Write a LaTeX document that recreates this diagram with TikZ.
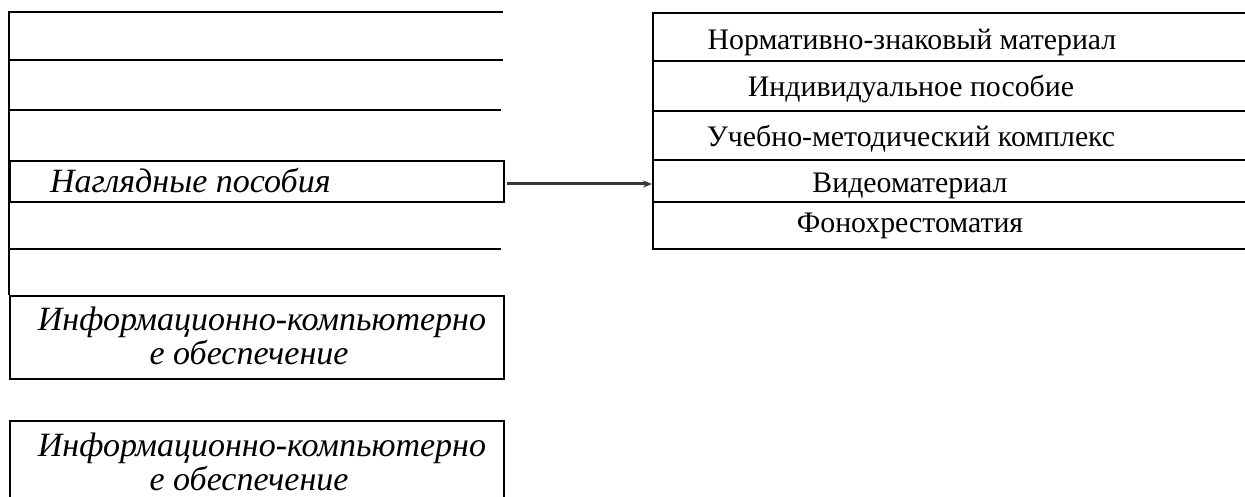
\documentclass[tikz,border=0pt]{standalone}
\usepackage{fontspec}
\setmainfont{Liberation Serif}[ItalicFont={Liberation Serif Italic}]
\usetikzlibrary{arrows.meta}
\begin{document}
\begin{tikzpicture}[x=1pt,y=-1pt,
  frame/.style={line width=2.2pt, draw=black},
  lbox/.style={frame, rectangle, anchor=north west, inner sep=0pt, minimum width=494pt},
  rbox/.style={frame, rectangle, anchor=north west, inner sep=0pt, minimum width=700pt},
  ltext/.style={inner sep=0pt, font=\fontsize{34}{34}\selectfont\itshape},
  rtext/.style={inner sep=0pt, anchor=base, font=\fontsize{29.8}{30}\selectfont},
  link/.style={line width=3pt, draw={rgb,255:red,55;green,55;blue,55}, -{Stealth[length=9pt,width=7pt]}}
]
\useasboundingbox (0,0) rectangle (1245,497);
\clip (0,0) rectangle (1245,497);

% left column lines
\draw[frame] (503,12) -- (9,12) -- (9,295);
\draw[frame] (9,60) -- (503,60);
\draw[frame] (9,110) -- (501,110);
\draw[frame] (9,249) -- (501,249);

% left boxes
\node[lbox, minimum height=41pt] (nag) at (9,160) {};
\node[ltext, anchor=base west] (nagt) at (50,193) {Наглядные пособия};

\node[lbox, minimum height=83pt] (info1) at (9,295) {};
\node[ltext, anchor=base] (info1a) at (262,330) {Информационно-компьютерно};
\node[ltext, anchor=base] (info1b) at (249,364) {е обеспечение};

\node[lbox, minimum height=100pt] (info2) at (9,420) {};
\node[ltext, anchor=base] (info2a) at (262,456) {Информационно-компьютерно};
\node[ltext, anchor=base] (info2b) at (249,490) {е обеспечение};

% right box
\node[rbox, minimum height=48pt] (r1) at (652,12) {};
\node[rbox, minimum height=50pt] (r2) at (652,60) {};
\node[rbox, minimum height=49pt] (r3) at (652,110) {};
\node[rbox, minimum height=42pt] (r4) at (652,159) {};
\node[rbox, minimum height=47pt] (r5) at (652,201) {};

\node[rtext] (t1) at (912,50) {Нормативно-знаковый материал};
\node[rtext] (t2) at (911,97) {Индивидуальное пособие};
\node[rtext] (t3) at (911,147) {Учебно-методический комплекс};
\node[rtext] (t4) at (910,193) {Видеоматериал};
\node[rtext] (t5) at (910,233) {Фонохрестоматия};

% connector
\coordinate (ay) at (0,184);
\draw[link] ([xshift=1.5pt]nag.east |- ay) -- (r4.west |- ay);
\end{tikzpicture}
\end{document}
